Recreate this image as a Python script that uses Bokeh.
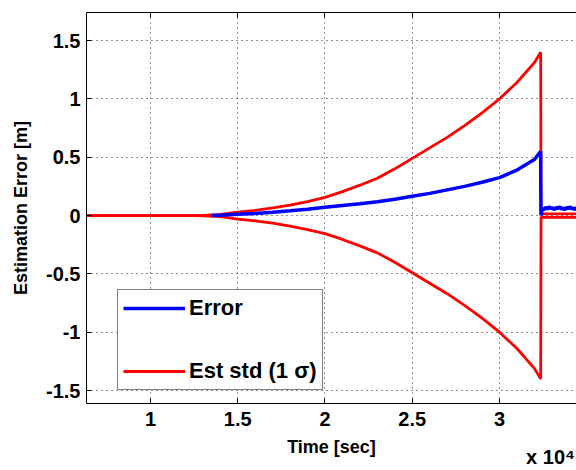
from bokeh.plotting import figure
from bokeh.models import Range1d, FixedTicker, LinearAxis, Legend, LegendItem
from bokeh.embed import file_html
from bokeh.resources import INLINE

# ---- data (time in seconds) ----
std_time = [6300, 12500, 13000, 14000, 15000, 16000, 17000, 18000, 19000, 20000,
            21000, 22000, 23000, 24000, 25000, 26000, 27000, 28000, 29000, 30000,
            31000, 32000, 32360, 32380, 34450]
std_vals = [0.0, 0.0, 0.002, 0.01, 0.03, 0.045, 0.065, 0.09, 0.12, 0.155,
            0.205, 0.26, 0.32, 0.40, 0.49, 0.58, 0.67, 0.77, 0.88, 1.00,
            1.14, 1.31, 1.40, 0.015, 0.015]

err_time = [13500, 14000, 15000, 16000, 17000, 18000, 19000, 20000, 21000, 22000,
            23000, 24000, 25000, 26000, 27000, 28000, 29000, 30000, 31000, 32000,
            32360, 32365, 32380,
            32450, 32550, 32650, 32750, 32850, 32950, 33050, 33150, 33250, 33350,
            33450, 33550, 33650, 33750, 33850, 33950, 34050, 34150, 34250, 34350, 34450]
err_vals = [0.0, 0.003, 0.01, 0.018, 0.028, 0.04, 0.054, 0.07, 0.085, 0.10,
            0.118, 0.14, 0.165, 0.19, 0.22, 0.25, 0.285, 0.325, 0.39, 0.48,
            0.55, 0.27, 0.0,
            0.06, 0.05, 0.07, 0.055, 0.075, 0.06, 0.065, 0.05, 0.07, 0.06,
            0.075, 0.055, 0.065, 0.05, 0.07, 0.06, 0.075, 0.055, 0.065, 0.05, 0.07]

x_ticks = [1, 1.5, 2, 2.5, 3]
x_tick_labels = ["1", "1.5", "2", "2.5", "3"]
y_ticks = [-1.5, -1, -0.5, 0, 0.5, 1, 1.5]
y_tick_labels = ["-1.5", "-1", "-0.5", "0", "0.5", "1", "1.5"]
exponent_label = "x 10\u2074"

SCALE = 1e4
FONT = "Liberation Sans"

p = figure(width=576, height=470, output_backend="svg", toolbar_location=None,
           x_range=Range1d(6333 / SCALE, 34413 / SCALE),
           y_range=Range1d(-1.611, 1.74),
           min_border_left=86, min_border_right=0, min_border_top=12,
           min_border_bottom=67)
p.outline_line_color = None
p.background_fill_color = "white"
p.border_fill_color = "white"

std_x = [t / SCALE for t in std_time]
err_x = [t / SCALE for t in err_time]

r_up = p.line(std_x, std_vals, line_color="#ff0000", line_width=2.8)
r_lo = p.line(std_x, [-v for v in std_vals], line_color="#ff0000", line_width=2.8)
b = p.line(err_x, err_vals, line_color="#0000ff", line_width=3.5)

# axes
xa = p.xaxis[0]
xa.ticker = FixedTicker(ticks=x_ticks)
xa.major_label_overrides = {t: l for t, l in zip(x_ticks, x_tick_labels)}
ya = p.yaxis[0]
ya.ticker = FixedTicker(ticks=y_ticks)
ya.major_label_overrides = {t: l for t, l in zip(y_ticks, y_tick_labels)}

for ax in (xa, ya):
    ax.axis_line_color = "black"
    ax.axis_line_width = 1
    ax.major_tick_in = 5
    ax.major_tick_out = 0
    ax.minor_tick_line_color = None
    ax.major_tick_line_color = "black"
    ax.major_label_text_font = FONT
    ax.major_label_text_font_style = "bold"
    ax.major_label_text_font_size = "20px"
    ax.major_label_text_color = "black"
    ax.axis_label_text_font = FONT
    ax.axis_label_text_font_style = "bold"
    ax.axis_label_text_font_size = "18px"
    ax.axis_label_text_color = "black"

xa.axis_label = "Time [sec]"
xa.major_label_standoff = 8
xa.axis_label_standoff = 8
ya.axis_label = "Estimation Error [m]"
ya.major_label_standoff = 6
ya.axis_label_standoff = 12

# exponent note under the x axis (MATLAB style "x 10^4")
exp_pos = 32923 / SCALE
ea = LinearAxis(ticker=FixedTicker(ticks=[exp_pos]))
ea.major_label_overrides = {exp_pos: exponent_label}
ea.axis_line_color = None
ea.major_tick_line_color = None
ea.minor_tick_line_color = None
ea.major_label_standoff = -20
ea.major_label_text_font = FONT
ea.major_label_text_font_style = "bold"
ea.major_label_text_font_size = "20px"
ea.major_label_text_color = "black"
p.add_layout(ea, "below")

top = LinearAxis(ticker=FixedTicker(ticks=x_ticks))
top.major_label_overrides = {t: "" for t in x_ticks}
top.major_label_text_font_size = "0px"
top.major_label_standoff = 0
top.major_tick_in = 5
top.major_tick_out = 0
top.minor_tick_line_color = None
top.axis_line_color = "black"
p.add_layout(top, "above")

for g in (p.xgrid[0], p.ygrid[0]):
    g.grid_line_color = "#222222"
    g.grid_line_dash = "1 4"
    g.grid_line_width = 1
p.xgrid[0].ticker = FixedTicker(ticks=x_ticks)
p.ygrid[0].ticker = FixedTicker(ticks=y_ticks)

legend = Legend(items=[LegendItem(label="Error", renderers=[b]),
                       LegendItem(label="Est std (1 \u03c3)", renderers=[r_up])],
                location=(31, 13))
legend.label_text_font = FONT
legend.label_text_font_style = "bold"
legend.label_text_font_size = "22px"
legend.label_text_color = "black"
legend.padding = 5
legend.spacing = 37
legend.label_height = 24
legend.glyph_height = 24
legend.glyph_width = 62
legend.label_standoff = 4
legend.border_line_color = "black"
legend.border_line_width = 1.5
legend.background_fill_color = "white"
legend.background_fill_alpha = 1.0
legend.margin = 0
p.add_layout(legend)

open("out.html", "w").write(file_html(p, INLINE))
